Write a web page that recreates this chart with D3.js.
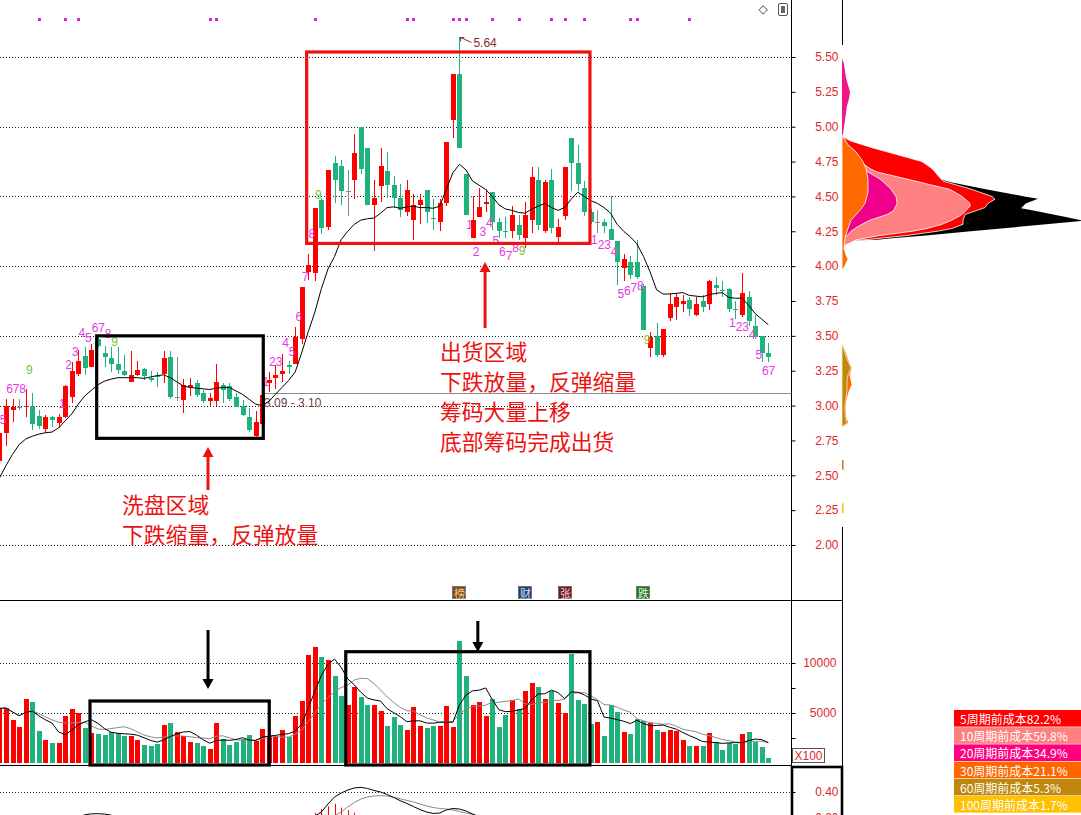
<!DOCTYPE html>
<html><head><meta charset="utf-8">
<script src="https://cdn.jsdelivr.net/npm/d3@7"></script>
<style>
html,body{margin:0;padding:0;background:#fff;overflow:hidden;}
svg{display:block;}
</style></head><body>
<svg id="chart" width="1081" height="815"></svg>
<script>
// ---- daily candles ----
const opens = [2.60,2.80,2.97,2.99,2.99,3.00,2.925,2.83,2.915,2.877,
2.915,3.06,3.225,3.355,3.28,3.48,3.38,3.34,3.30,3.248,
3.17,3.22,3.265,3.20,3.215,3.225,3.35,3.065,3.04,3.13,
3.16,3.09,3.03,3.03,3.15,3.14,3.06,3.00,2.92,2.78,
2.87,3.16,3.20,3.225,3.29,3.30,3.475,3.96,3.95,4.475,
4.28,4.74,4.72,4.54,4.62,4.995,4.85,4.44,4.575,4.68,
4.58,4.49,4.39,4.33,4.44,4.545,4.345,4.32,4.45,5.05,
5.38,4.66,4.20,4.355,4.445,4.535,4.32,4.255,4.25,4.295,
4.20,4.33,4.62,4.25,4.62,4.21,4.36,4.92,4.74,4.56,
4.39,4.32,4.32,4.265,4.18,3.985,4.03,4.03,3.86,3.41,
3.50,3.36,3.63,3.705,3.73,3.76,3.65,3.75,3.73,3.865,
3.83,3.835,3.695,3.65,3.78,3.57,3.50,3.375];
const highs = [2.83,3.05,3.045,3.05,3.12,3.09,2.97,2.93,2.925,2.94,
3.15,3.31,3.40,3.42,3.44,3.50,3.43,3.42,3.42,3.36,
3.39,3.32,3.27,3.25,3.24,3.39,3.39,3.35,3.19,3.20,
3.18,3.11,3.09,3.30,3.165,3.165,3.09,3.04,2.98,2.96,
3.09,3.24,3.29,3.37,3.32,3.56,3.85,4.09,4.42,4.49,
4.69,4.79,4.76,4.69,4.95,5.00,4.85,4.62,4.85,4.82,
4.65,4.59,4.62,4.52,4.52,4.545,4.48,4.48,4.89,5.38,
5.64,4.66,4.50,4.56,4.55,4.535,4.345,4.35,4.43,4.37,
4.46,4.71,4.71,4.62,4.70,4.34,4.71,4.92,4.87,4.61,
4.41,4.40,4.34,4.50,4.18,4.09,4.07,4.19,3.87,3.53,
3.595,3.55,3.805,3.81,3.79,3.78,3.78,3.79,3.90,3.924,
3.89,3.84,3.75,3.953,3.82,3.65,3.50,3.447];
const lows = [2.56,2.71,2.885,2.97,2.92,2.825,2.83,2.80,2.845,2.84,
2.91,3.02,3.21,3.22,3.28,3.42,3.28,3.24,3.23,3.21,
3.17,3.21,3.18,3.17,3.13,3.16,3.05,3.03,2.95,3.07,
3.06,3.02,2.99,3.00,3.02,3.03,2.99,2.925,2.81,2.775,
2.86,3.10,3.12,3.17,3.23,3.30,3.44,3.90,3.89,4.23,
4.26,4.45,4.44,4.36,4.48,4.66,4.44,4.11,4.46,4.49,
4.42,4.35,4.36,4.19,4.30,4.31,4.26,4.25,4.43,4.92,
4.85,4.37,4.20,4.35,4.39,4.26,4.20,4.20,4.20,4.19,
4.13,4.24,4.26,4.24,4.235,4.16,4.33,4.54,4.54,4.36,
4.30,4.235,4.235,4.187,3.865,3.89,3.91,3.91,3.54,3.35,
3.35,3.35,3.61,3.615,3.67,3.64,3.64,3.67,3.685,3.793,
3.78,3.67,3.62,3.637,3.57,3.48,3.315,3.315];
const closes = [2.80,3.00,2.99,2.99,3.00,2.87,2.85,2.92,2.895,2.92,
3.14,3.25,3.32,3.27,3.40,3.43,3.35,3.30,3.255,3.22,
3.22,3.255,3.21,3.18,3.205,3.34,3.065,3.065,3.15,3.147,
3.075,3.03,3.055,3.17,3.115,3.045,2.99,2.93,2.825,2.88,
3.075,3.18,3.22,3.25,3.28,3.49,3.85,4.01,4.415,4.27,
4.69,4.62,4.54,4.54,4.81,4.70,4.44,4.49,4.72,4.58,
4.49,4.40,4.545,4.44,4.475,4.39,4.335,4.45,4.89,5.38,
4.85,4.37,4.33,4.425,4.46,4.32,4.25,4.25,4.37,4.225,
4.37,4.64,4.295,4.60,4.27,4.28,4.71,4.74,4.59,4.39,
4.32,4.32,4.29,4.19,4.03,4.05,3.935,3.92,3.54,3.49,
3.36,3.55,3.73,3.78,3.75,3.69,3.73,3.705,3.89,3.84,
3.82,3.69,3.69,3.81,3.61,3.49,3.375,3.35];
// price moving average line
const priceMA = [2.48,2.57,2.65,2.72,2.76,2.78,2.795,2.805,2.81,2.84,
2.89,2.94,3.01,3.07,3.11,3.15,3.175,3.19,3.20,3.20,
3.20,3.20,3.195,3.205,3.215,3.22,3.20,3.17,3.14,3.13,
3.125,3.12,3.115,3.125,3.13,3.13,3.105,3.08,3.045,3.01,
3.00,3.03,3.08,3.13,3.18,3.24,3.38,3.53,3.67,3.84,
3.98,4.07,4.19,4.25,4.30,4.33,4.34,4.345,4.38,4.42,
4.425,4.415,4.425,4.43,4.42,4.42,4.415,4.43,4.55,4.67,
4.73,4.69,4.61,4.58,4.55,4.50,4.44,4.41,4.40,4.385,
4.38,4.41,4.43,4.45,4.42,4.40,4.42,4.48,4.53,4.50,
4.47,4.45,4.42,4.38,4.30,4.25,4.21,4.16,4.07,3.96,
3.83,3.80,3.80,3.805,3.81,3.79,3.785,3.78,3.795,3.805,
3.81,3.775,3.77,3.77,3.72,3.66,3.62,3.58];
// volume (x100 shares)
const volumes = [5470,5530,4300,3630,6400,6070,3200,2300,1970,1970,
4730,5400,4970,3530,3000,2900,2800,3130,3030,2730,
2730,2300,1830,1700,1900,3800,4030,3100,2700,2070,
2000,1730,1400,4000,2370,1830,2100,2370,2800,2200,
3400,2700,2700,3300,2570,4700,6200,10800,11570,10570,
10300,8700,6700,5800,7570,6570,5800,5800,5200,3730,
4630,3800,3300,5630,3730,3530,3730,3730,5730,3630,
12200,8700,5800,6100,4730,6400,3630,4800,6300,5400,
7200,8030,7570,6400,7200,6000,5000,10900,6300,5900,
3900,4130,2730,5800,5130,3100,2930,4370,4230,3970,
3270,3130,3300,3230,2300,1730,1730,1730,2970,2070,
1300,1970,1900,2900,3100,2130,1630,470];
// MACD (only the top of the pane is in view)
const difEarlyStart = 12;
const difEarly = [0.205,0.225,0.232,0.233,0.23,0.222,0.205];
const difStart = 48;
const dif = [0.215,0.246,0.308,0.362,0.392,0.415,0.431,0.436,0.427,0.412,0.40,0.381,0.358,0.333,0.312,0.288,0.265,0.246,0.235,0.238,0.262,0.273,0.269,0.254,0.231,0.208,0.19];
const deaStart = 50;
const dea = [0.20,0.219,0.246,0.285,0.319,0.346,0.362,0.369,0.372,0.369,0.359,0.348,0.335,0.323,0.308,0.292,0.281,0.273,0.269,0.262,0.25,0.238,0.228,0.215,0.20];
const macdBarStart = 47;
const macdBars = [0.22,0.24,0.27,0.29,0.31,0.28,0.26,0.24,0.22];
// sequential count labels: candle index, text, price level, colour key
const tdIndex = [1,2,3,4,5, 10,11,12,13,14,15,16,17,18, 41,42,43,44,45,46,47,48,49, 72,73,74,75,76,77,78,79,80, 91,92,93,94,95,96,97,98,99, 112,113,114,115,116,117];
const tdText  = ['5','6','7','8','9', '1','2','3','4','5','6','7','8','9', '1','2','3','4','5','6','7','8','9', '1','2','3','4','5','6','7','8','9', '1','2','3','4','5','6','7','8','9', '1','2','3','4','5','67'];
const tdPrice = [2.897,3.119,3.119,3.119,3.255, 3.011,3.291,3.384,3.52,3.485,3.556,3.556,3.513,3.456, 3.171,3.315,3.313,3.45,3.386,3.638,3.924,4.23,4.51, 4.295,4.104,4.248,4.312,4.183,4.104,4.073,4.128,4.109, 4.188,4.152,4.152,4.104,3.80,3.822,3.843,3.858,3.47, 3.594,3.566,3.566,3.506,3.363,3.25];
const tdKind  = ['m','m','m','m','g', 'm','m','m','m','m','m','m','m','g', 'm','m','m','m','m','m','m','m','g', 'm','m','m','m','m','m','m','m','g', 'm','m','m','m','m','m','m','m','y', 'm','m','m','m','m','m'];
// signal markers along the top
const markerIndex = [6,10,12,32,33,48,62,63,69,70,71,75,79,84,86,89,96,97,105];
// event tags
const eventIndex = [70,80,86,98];
const eventText = ['榜','财','张','跌'];
// price axis ticks
const priceTicks = [2.00,2.25,2.50,2.75,3.00,3.25,3.50,3.75,4.00,4.25,4.50,4.75,5.00,5.25,5.50];
const priceGrid = [2.0,2.5,3.0,3.5,4.0,4.5,5.0,5.5];
const volTicks = [5000,10000];
// cost distribution profiles: [price, share]
const chipAll = [[4.63,0],[4.62,40],[4.60,44],[4.55,58],[4.50,73],[4.483,78.4],[4.45,73.5],[4.416,71.6],[4.40,76],[4.35,90],[4.325,96.7],[4.30,81.6],[4.27,63.6],[4.25,51.5],[4.22,33.5],[4.20,20],[4.19,14],[4.183,0]];
const chip5 = [[4.93,0],[4.92,1.2],[4.90,3.2],[4.85,12],[4.80,22],[4.75,32],[4.70,36],[4.65,38.4],[4.61,40.4],[4.55,52],[4.50,60],[4.48,61.2],[4.45,58.4],[4.42,57.2],[4.37,49.2],[4.33,48.4],[4.30,48.4],[4.27,44],[4.25,38],[4.22,26],[4.20,15.2],[4.19,10],[4.18,0]];
const chip10 = [[4.92,0],[4.91,0.8],[4.85,2.4],[4.80,4.4],[4.75,7.2],[4.70,11.2],[4.675,14],[4.65,20],[4.60,31.6],[4.55,43.2],[4.50,48],[4.45,51.2],[4.43,51.2],[4.40,49.6],[4.37,48],[4.33,44],[4.30,40],[4.27,34],[4.25,28],[4.22,15.2],[4.19,6],[4.16,2.4],[4.14,0]];
const chip20 = [[4.88,0],[4.87,0.8],[4.80,4],[4.75,6.4],[4.70,8.8],[4.675,10.4],[4.625,15.2],[4.56,19.2],[4.50,21.6],[4.45,22],[4.40,20.8],[4.37,18],[4.33,11.2],[4.30,8],[4.28,6],[4.25,3.6],[4.22,2],[4.20,0.8],[4.18,0]];
const chip20High = [[5.49,0],[5.45,0.8],[5.40,1.2],[5.35,1.6],[5.30,2.4],[5.25,3.2],[5.20,2.8],[5.15,2],[5.10,1.6],[5.05,1.2],[5.00,0.8],[4.95,0.4],[4.93,0]];
const chip30 = [[4.93,0],[4.92,0.8],[4.87,2.4],[4.82,5.6],[4.75,8.4],[4.70,9.6],[4.625,10.4],[4.53,10.4],[4.45,9.2],[4.40,7.2],[4.33,3.6],[4.25,2],[4.20,1.2],[4.13,0.8],[4.08,1.6],[4.05,2.4],[4.02,1.6],[3.99,0.8],[3.97,0]];
const chip30Low = [[3.45,0],[3.40,1.2],[3.30,3.2],[3.27,4],[3.22,3.2],[3.15,4],[3.10,2.8],[3.05,2],[3.00,1.6],[2.95,1.6],[2.90,2],[2.88,2.8],[2.86,1.2],[2.84,0]];
const chip60Low = [[3.44,0],[3.40,0.8],[3.35,1.6],[3.30,2.8],[3.27,3.6],[3.22,2.4],[3.18,2],[3.12,2],[3.05,1.6],[3.00,1.2],[2.95,1.2],[2.90,1.6],[2.87,2],[2.85,0]];
const chip60Tail = [[2.61,0.6],[2.54,0.6]];
const chip100Tail = [[2.30,0.6],[2.23,0.6]];
// cost legend
const legendText = ['5周期前成本82.2%','10周期前成本59.8%','20周期前成本34.9%','30周期前成本21.1%','60周期前成本5.3%','100周期前成本1.7%'];
const legendColor = ['#ff0000','#ff8080','#ff0080','#ff6600','#bf870b','#ffc000'];

// ---- scales ----
const n = opens.length;
const x = d3.scaleLinear().domain([0, n - 1]).range([-0.57, 768.3]);
const y = d3.scaleLinear().domain([2.0, 5.5]).range([545, 57]);
const yv = d3.scaleLinear().domain([0, 10000]).range([763, 663]);
const ym = d3.scaleLinear().domain([0.2, 0.4]).range([818, 792]);
const chipX = d3.scaleLinear().domain([0, 100]).range([842, 1092]);

const UP = '#ff0000', DOWN = '#1fb27d', FLAT = '#8a8a8a', AXIS_TXT = '#e0282c';
const svg = d3.select('#chart');
const cx = i => Math.round(x(i));
const colorOf = i => closes[i] > opens[i] ? UP : (closes[i] < opens[i] ? DOWN : FLAT);
const volColorOf = i => closes[i] >= opens[i] ? UP : DOWN;

const defs = svg.append('defs');
defs.append('clipPath').attr('id', 'cMain').append('rect').attr('x', 0).attr('y', 0).attr('width', 791).attr('height', 600);
defs.append('clipPath').attr('id', 'cVol').append('rect').attr('x', 0).attr('y', 600).attr('width', 791).attr('height', 165);
defs.append('clipPath').attr('id', 'cMacd').append('rect').attr('x', 0).attr('y', 766).attr('width', 791).attr('height', 60);

// ---- grid lines ----
const grid = svg.append('g').attr('stroke', '#222').attr('stroke-width', 1).attr('stroke-dasharray', '1,2');
grid.selectAll('.gp').data(priceGrid).join('line')
  .attr('x1', 0).attr('x2', 791).attr('y1', d => Math.round(y(d)) + 0.5).attr('y2', d => Math.round(y(d)) + 0.5);
grid.selectAll('.gv').data(volTicks).join('line')
  .attr('x1', 0).attr('x2', 791).attr('y1', d => Math.round(yv(d)) + 0.5).attr('y2', d => Math.round(yv(d)) + 0.5);
grid.append('line').attr('x1', 0).attr('x2', 791).attr('y1', Math.round(ym(0.4)) + 0.5).attr('y2', Math.round(ym(0.4)) + 0.5);

// ---- reference line at 3.09 ----
svg.append('line').attr('x1', cx(40)).attr('x2', 791)
  .attr('y1', Math.round(y(3.09)) + 0.5).attr('y2', Math.round(y(3.09)) + 0.5)
  .attr('stroke', '#8c8c8c').attr('stroke-width', 1);
svg.append('text').attr('x', cx(40) + 2).attr('y', y(3.09) + 10)
  .attr('dominant-baseline', 'central').attr('font-family', 'Liberation Sans, Arial, sans-serif')
  .attr('font-size', 12).attr('fill', '#6e3f3f').text('3.09 - 3.10');

// ---- candles ----
const gC = svg.append('g').attr('clip-path', 'url(#cMain)').attr('shape-rendering', 'crispEdges');
const idx = d3.range(n);
gC.selectAll('line.w').data(idx).join('line')
  .attr('x1', i => cx(i) + 0.5).attr('x2', i => cx(i) + 0.5)
  .attr('y1', i => y(highs[i])).attr('y2', i => y(lows[i]))
  .attr('stroke', colorOf).attr('stroke-width', 1);
gC.selectAll('rect.b').data(idx).join('rect')
  .attr('x', i => cx(i) - 2).attr('width', 5)
  .attr('y', i => y(Math.max(opens[i], closes[i])))
  .attr('height', i => Math.max(1, Math.abs(y(opens[i]) - y(closes[i]))))
  .attr('fill', colorOf);

// price moving average
svg.append('path').attr('clip-path', 'url(#cMain)')
  .attr('d', d3.line().x((d, i) => x(i)).y(d => y(d))(priceMA))
  .attr('fill', 'none').attr('stroke', '#000').attr('stroke-width', 1);

// sequential count labels
const tdColor = {m: '#e23be2', g: '#6cc63a', y: '#a6c21e'};
svg.append('g').attr('font-family', 'Liberation Sans, Arial, sans-serif').attr('font-size', 12)
  .selectAll('text').data(tdIndex).join('text')
  .attr('x', (d, k) => x(d) - 3 + (tdText[k].length - 1) * 3.3)
  .attr('y', (d, k) => y(tdPrice[k]))
  .attr('text-anchor', 'middle').attr('dominant-baseline', 'central')
  .attr('fill', (d, k) => tdColor[tdKind[k]])
  .text((d, k) => tdText[k]);

// top signal markers
svg.append('g').selectAll('rect').data(markerIndex).join('rect')
  .attr('x', d => cx(d) - 1).attr('y', 18).attr('width', 3).attr('height', 3).attr('fill', '#e020e0');

// highest price callout
const hiIdx = highs.indexOf(d3.max(highs));
const hx = x(hiIdx), hy = y(highs[hiIdx]);
svg.append('path').attr('d', `M${hx + 1},${hy} L${hx + 12},${hy + 5}`).attr('stroke', '#7a3030').attr('fill', 'none');
svg.append('path').attr('d', `M${hx + 1},${hy + 4} L${hx + 1},${hy} L${hx + 5},${hy}`).attr('stroke', '#7a3030').attr('fill', 'none');
svg.append('text').attr('x', hx + 14).attr('y', hy + 6).attr('dominant-baseline', 'central')
  .attr('font-family', 'Liberation Sans, Arial, sans-serif').attr('font-size', 12).attr('fill', '#7a2e2e')
  .text(d3.format('.2f')(highs[hiIdx]));

// ---- volume ----
const gV = svg.append('g').attr('clip-path', 'url(#cVol)').attr('shape-rendering', 'crispEdges');
gV.selectAll('rect').data(idx).join('rect')
  .attr('x', i => cx(i) - 2).attr('width', 5)
  .attr('y', i => yv(volumes[i])).attr('height', i => yv(0) - yv(volumes[i]))
  .attr('fill', volColorOf);
const movingAvg = (arr, p) => arr.map((v, i) => d3.mean(arr.slice(Math.max(0, i - p + 1), i + 1)));
const volLine = d3.line().x((d, i) => x(i)).y(d => yv(d));
svg.append('path').attr('clip-path', 'url(#cVol)').attr('d', volLine(movingAvg(volumes, 10)))
  .attr('fill', 'none').attr('stroke', '#8a8a8a').attr('stroke-width', 1);
svg.append('path').attr('clip-path', 'url(#cVol)').attr('d', volLine(movingAvg(volumes, 5)))
  .attr('fill', 'none').attr('stroke', '#000').attr('stroke-width', 1);

// ---- MACD ----
const gM = svg.append('g').attr('clip-path', 'url(#cMacd)');
gM.selectAll('line').data(macdBars).join('line')
  .attr('x1', (d, k) => cx(macdBarStart + k) + 0.5).attr('x2', (d, k) => cx(macdBarStart + k) + 0.5)
  .attr('y1', ym(0)).attr('y2', d => ym(d)).attr('stroke', '#ff0000').attr('stroke-width', 1);
const mLine = start => d3.line().x((d, k) => x(start + k)).y(d => ym(d));
gM.append('path').attr('d', mLine(deaStart)(dea)).attr('fill', 'none').attr('stroke', '#8a8a8a');
gM.append('path').attr('d', mLine(difStart)(dif)).attr('fill', 'none').attr('stroke', '#000');
gM.append('path').attr('d', mLine(difEarlyStart)(difEarly)).attr('fill', 'none').attr('stroke', '#000');

// ---- event tags ----
const evBg = ['#7b4a1c', '#1e3f6e', '#6a1c1c', '#2c6e2c'];
const evFg = ['#f4c98a', '#cfe0ff', '#ffd0d0', '#d4ffd4'];
const gE = svg.append('g');
eventIndex.forEach((d, k) => {
  gE.append('rect').attr('x', cx(d) - 6.5).attr('y', 586.5).attr('width', 13).attr('height', 12)
    .attr('fill', evBg[k]).attr('stroke', '#555').attr('stroke-width', 0.6);
  gE.append('text').attr('x', cx(d) + 0.5).attr('y', 592.5).attr('text-anchor', 'middle').attr('dominant-baseline', 'central')
    .attr('font-family', 'Noto Sans CJK SC, sans-serif').attr('font-size', 11).attr('fill', evFg[k]).text(eventText[k]);
});

// ---- frame lines ----
const frame = svg.append('g').attr('stroke', '#000').attr('shape-rendering', 'crispEdges');
frame.append('line').attr('x1', 791.5).attr('x2', 791.5).attr('y1', 0).attr('y2', 766);
frame.append('line').attr('x1', 0).attr('x2', 842).attr('y1', 600.5).attr('y2', 600.5);
frame.append('line').attr('x1', 0).attr('x2', 791).attr('y1', 765.5).attr('y2', 765.5);
frame.append('line').attr('x1', 842.5).attr('x2', 842.5).attr('y1', 0).attr('y2', 45);
frame.append('line').attr('x1', 842.5).attr('x2', 842.5).attr('y1', 527).attr('y2', 815);
svg.append('rect').attr('x', 792).attr('y', 767).attr('width', 50).attr('height', 60)
  .attr('fill', 'none').attr('stroke', '#000').attr('stroke-width', 2.6);

// ---- axes ----
const axFont = 'Liberation Sans, Arial, sans-serif';
function styleAxis(g, rightEdge) {
  g.select('.domain').remove();
  g.selectAll('line').attr('stroke', '#000');
  g.selectAll('text').attr('fill', AXIS_TXT).attr('font-family', axFont).attr('font-size', 12)
    .attr('text-anchor', 'end').attr('x', rightEdge);
}
svg.append('g').attr('transform', 'translate(791.5,0)')
  .call(d3.axisRight(y).tickValues(priceTicks).tickFormat(d3.format('.2f')).tickSize(4))
  .call(g => styleAxis(g, 47));
svg.append('g').attr('transform', 'translate(791.5,0)')
  .call(d3.axisRight(yv).tickValues([2500, 5000, 7500, 10000]).tickFormat(d => volTicks.includes(d) ? d : '').tickSize(4))
  .call(g => styleAxis(g, 45));
svg.append('g').attr('transform', 'translate(791.5,0)')
  .call(d3.axisRight(ym).tickValues([0.2, 0.4]).tickFormat(d3.format('.2f')).tickSize(4))
  .call(g => styleAxis(g, 47));

// volume unit tag
svg.append('rect').attr('x', 792.5).attr('y', 748.5).attr('width', 32).attr('height', 14)
  .attr('fill', '#fff').attr('stroke', '#555').attr('stroke-width', 1);
svg.append('text').attr('x', 808.5).attr('y', 756).attr('text-anchor', 'middle').attr('dominant-baseline', 'central')
  .attr('font-family', axFont).attr('font-size', 12).attr('fill', AXIS_TXT).text('X100');

// ---- cost distribution ----
const chipArea = d3.area().y(d => y(d[0])).x0(chipX(0)).x1(d => chipX(d[1]));
const layers = [
  [chipAll, '#000000', 'none'],
  [chip5, '#ff0000', '#fff'],
  [chip10, '#ff8080', '#fff'],
  [chip20, '#f0008a', '#fff'],
  [chip20High, '#f0168a', 'none'],
  [chip30, '#ff6a00', '#fff'],
  [chip30Low, '#ff6a00', '#fff'],
  [chip60Low, '#bf870b', '#ffe9c0'],
  [chip60Tail, '#c9781a', 'none'],
  [chip100Tail, '#ffc000', 'none']
];
const gChip = svg.append('g');
layers.forEach(([data, fill, stroke]) => {
  gChip.append('path').attr('d', chipArea(data)).attr('fill', fill)
    .attr('stroke', stroke).attr('stroke-width', 0.8).attr('stroke-linejoin', 'round');
});

// cost legend
const gL = svg.append('g');
legendText.forEach((t, k) => {
  gL.append('rect').attr('x', 954).attr('y', 710 + k * 17.2).attr('width', 127).attr('height', 16.6).attr('fill', legendColor[k]);
  gL.append('text').attr('x', 960).attr('y', 718.5 + k * 17.2).attr('dominant-baseline', 'central')
    .attr('font-family', 'Noto Sans CJK SC, sans-serif').attr('font-size', 12).attr('fill', '#fff').text(t);
});

// ---- annotations ----
const ann = svg.append('g');
function box(i0, i1, top, bottom, color) {
  ann.append('rect').attr('x', x(i0)).attr('y', top).attr('width', x(i1) - x(i0)).attr('height', bottom - top)
    .attr('fill', 'none').attr('stroke', color).attr('stroke-width', 3.2);
}
box(14.8, 40.15, y(3.50), y(2.765), '#000');
box(46.75, 89.86, y(5.536), y(4.163), '#ee1111');
box(13.78, 41.06, yv(6200), yv(-200), '#000');
box(52.7, 89.86, yv(11130), yv(-200), '#000');

function arrow(i, fromY, tipY, color) {
  const ax = x(i), dir = tipY < fromY ? 1 : -1;
  ann.append('line').attr('x1', ax).attr('x2', ax).attr('y1', fromY).attr('y2', tipY + dir * 8)
    .attr('stroke', color).attr('stroke-width', 3);
  ann.append('path').attr('d', `M${ax},${tipY} L${ax - 5.5},${tipY + dir * 10} L${ax + 5.5},${tipY + dir * 10} Z`).attr('fill', color);
}
arrow(31.74, y(2.394), y(2.703), '#ee1111');
arrow(73.9, y(3.556), y(4.03), '#ee1111');
arrow(31.74, yv(13300), yv(7400), '#000');
arrow(72.8, yv(14200), yv(11100), '#000');

const noteFont = 'Noto Sans CJK SC, sans-serif';
function note(lines, x0, y0, step) {
  lines.forEach((t, k) => ann.append('text').attr('x', x0).attr('y', y0 + k * step).attr('dominant-baseline', 'central')
    .attr('font-family', noteFont).attr('font-size', 21.8).attr('fill', '#ee1111').text(t));
}
note(['洗盘区域', '下跌缩量，反弹放量'], 122, 503, 30);
note(['出货区域', '下跌放量，反弹缩量', '筹码大量上移', '底部筹码完成出货'], 440, 350, 30);

// ---- toolbar glyphs ----
svg.append('text').attr('x', 763).attr('y', 9).attr('text-anchor', 'middle').attr('dominant-baseline', 'central')
  .attr('font-family', 'DejaVu Sans, sans-serif').attr('font-size', 12).attr('fill', '#444').text('◇');
svg.append('rect').attr('x', 778.5).attr('y', 3.5).attr('width', 9).attr('height', 12).attr('rx', 1.5)
  .attr('fill', '#fff').attr('stroke', '#555');
svg.append('rect').attr('x', 781).attr('y', 6).attr('width', 4).attr('height', 7).attr('fill', '#666');
</script>
</body></html>
